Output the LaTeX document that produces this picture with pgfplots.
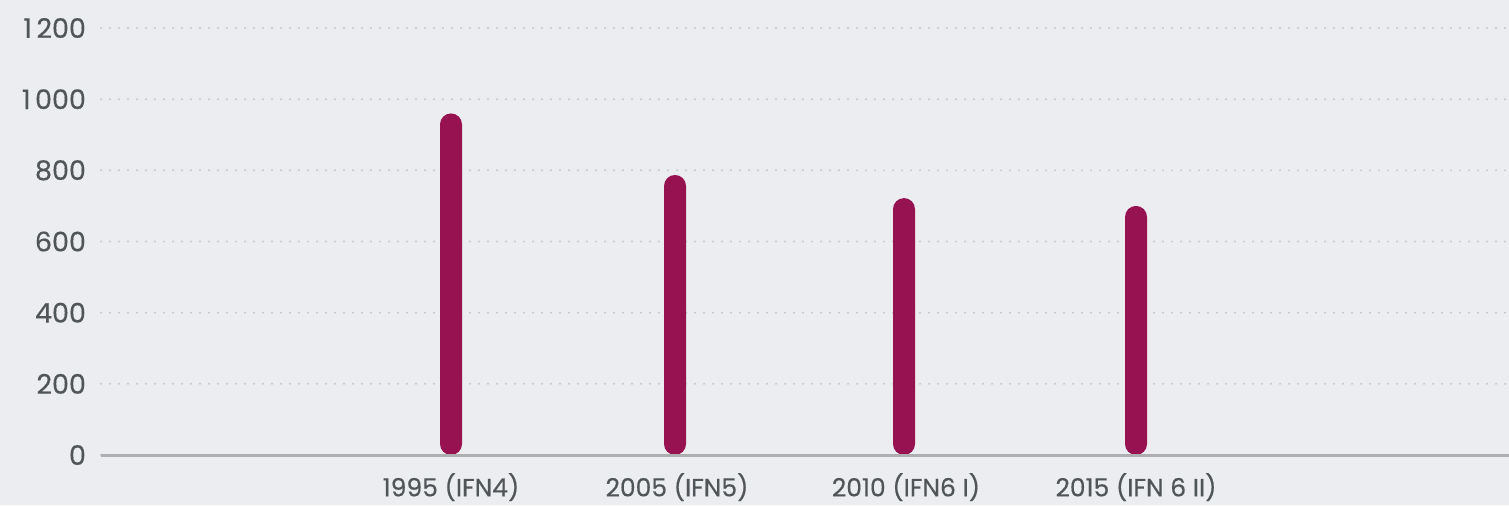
\documentclass[border=0pt]{standalone}
\usepackage{pgfplots}
\pgfplotsset{compat=1.18}
\usepackage{fontspec}
\setmainfont{Poppins}
\newfontfamily\labfont[FakeBold=0.35]{Poppins}
\definecolor{bg}{RGB}{236,237,241}
\definecolor{barc}{RGB}{150,18,80}
\definecolor{lab}{RGB}{80,85,88}
\definecolor{gridc}{RGB}{198,200,205}
\definecolor{basec}{RGB}{174,175,177}
\begin{document}
\begin{tikzpicture}[x=1pt,y=1pt]
\fill[bg] (-50.5,-25) rectangle (704,227.5);
\useasboundingbox (-50.5,-25) rectangle (704,227.5);
\begin{axis}[
  at={(0,0)}, anchor=south west,
  scale only axis, width=704pt, height=213.5pt,
  xmin=101, xmax=1509, ymin=0, ymax=1200,
  axis line style={draw=none},
  clip=false,
  ytick={0,200,...,1200},
  xtick={451,677,906,1136},
  xticklabels={1995 (IFN4),2005 (IFN5),2010 (IFN6 I),2015 (IFN 6 II)},
  ymajorgrids,
  grid style={gridc, line width=1.1pt, dash pattern=on 0pt off 4.5pt, line cap=round},
  major tick length=0pt,
  tick label style={text=lab},
  yticklabel style={font=\labfont\fontsize{13.5}{15}\selectfont, xshift=-4pt},
  xticklabel style={font=\labfont\fontsize{12.5}{14}\selectfont, yshift=-5.5pt},
  /pgf/number format/assume math mode=true,
  /pgf/number format/1000 sep={\,},
  ybar, bar width=11pt,
]
\addplot[fill=barc, draw=none, rounded corners=5.5pt] coordinates {(451,960) (675,787) (904,722) (1136,700)};
\draw[basec, line width=1.5pt] (axis cs:101,0) -- (axis cs:1509,0);
\end{axis}
\end{tikzpicture}
\end{document}
